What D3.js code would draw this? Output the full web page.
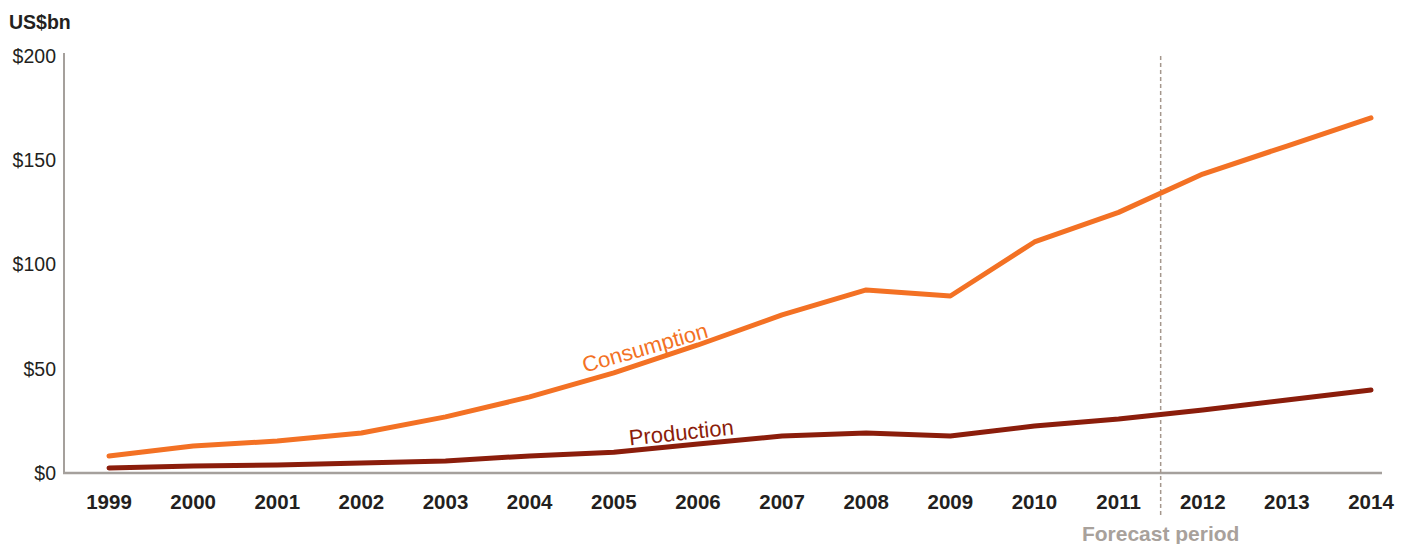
<!DOCTYPE html>
<html><head><meta charset="utf-8">
<script src="https://cdn.jsdelivr.net/npm/d3@7"></script>
<style>
body{margin:0;background:#fff;}
text{font-family:"Liberation Sans",Arial,Helvetica,sans-serif;}
</style></head>
<body><svg id="c" width="1412" height="544"></svg>
<script>
const years = [1999,2000,2001,2002,2003,2004,2005,2006,2007,2008,2009,2010,2011,2012,2013,2014];
const consumption = [8.2,13,15.3,19.2,26.9,36.5,48,61.4,75.8,87.8,84.9,110.8,125,143.4,156.8,170.3];
const production = [2.4,3.4,3.8,4.8,5.8,8.2,10,13.9,17.7,19.2,17.7,22.5,25.9,30.2,35,39.8];
const yTicks = [0,50,100,150,200];
const forecastStart = 2011.5;

const svg = d3.select("#c");
const x = d3.scaleLinear().domain([1999,2014]).range([109,1371]);
const y = d3.scaleLinear().domain([0,200]).range([473,56]);

// axes
svg.append("line").attr("x1",64).attr("x2",64).attr("y1",53).attr("y2",474)
  .attr("stroke","#a5a09c").attr("stroke-width",2);
svg.append("line").attr("x1",63).attr("x2",1382).attr("y1",473).attr("y2",473)
  .attr("stroke","#a5a09c").attr("stroke-width",2.5);

svg.selectAll(".yt").data(yTicks).enter().append("text")
  .attr("x",56).attr("y",d=>y(d)).attr("dy","0.35em").attr("text-anchor","end")
  .attr("font-size",19.5).attr("fill","#231f20").text(d=>"$"+d);

svg.selectAll(".xt").data(years).enter().append("text")
  .attr("x",d=>x(d)).attr("y",509).attr("text-anchor","middle")
  .attr("font-size",20.5).attr("font-weight","bold").attr("fill","#231f20").text(d=>d);

svg.append("text").attr("x",9).attr("y",29).attr("font-size",19.5).attr("font-weight","bold")
  .attr("fill","#231f20").text("US$bn");

// forecast
svg.append("line").attr("x1",x(forecastStart)).attr("x2",x(forecastStart)).attr("y1",56).attr("y2",516)
  .attr("stroke","#a5978d").attr("stroke-width",1.5).attr("stroke-dasharray","4,3");
svg.append("text").attr("x",x(forecastStart)).attr("y",541).attr("text-anchor","middle")
  .attr("font-size",21).attr("font-weight","bold").attr("fill","#a8a19b").text("Forecast period");

const line = d3.line().x((d,i)=>x(years[i])).y(d=>y(d));
svg.append("path").attr("d",line(production)).attr("fill","none").attr("stroke","#8b1d0b")
  .attr("stroke-width",5).attr("stroke-linecap","round").attr("stroke-linejoin","round");
svg.append("path").attr("d",line(consumption)).attr("fill","none").attr("stroke","#f37124")
  .attr("stroke-width",5).attr("stroke-linecap","round").attr("stroke-linejoin","round");

svg.append("text").attr("transform","translate(647,355) rotate(-16)").attr("text-anchor","middle")
  .attr("font-size",22).attr("fill","#f37124").text("Consumption");
svg.append("text").attr("transform","translate(682,440) rotate(-6)").attr("text-anchor","middle")
  .attr("font-size",22).attr("fill","#8b1d0b").text("Production");
</script></body></html>
